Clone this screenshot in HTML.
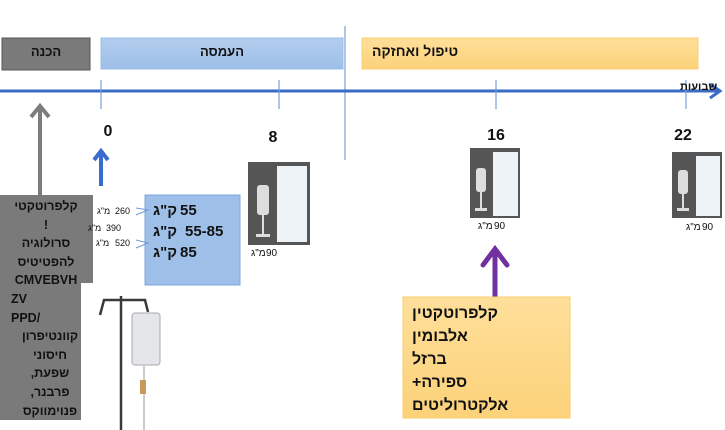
<!DOCTYPE html>
<html><head><meta charset="utf-8"><style>
body{margin:0;width:725px;height:430px;overflow:hidden;background:#fff;font-family:"Liberation Sans","Noto Sans CJK SC",sans-serif;position:relative}
.a{position:absolute}
.t{font-family:"Liberation Sans","Noto Sans CJK SC",sans-serif;}
.s{position:absolute;font-size:9px;color:#111;white-space:nowrap}
.m{position:absolute;font-size:10px;color:#111;white-space:nowrap}
.k{position:absolute;font-size:15px;font-weight:bold;color:#111;white-space:nowrap}
</style></head><body>
<svg class="a" style="left:0;top:0" width="725" height="430">
<defs>
<linearGradient id="og" x1="0" y1="0" x2="0" y2="1"><stop offset="0" stop-color="#fedf9a"/><stop offset="1" stop-color="#fcd27a"/></linearGradient>
<linearGradient id="bg" x1="0" y1="0" x2="0" y2="1"><stop offset="0" stop-color="#b4cdee"/><stop offset="1" stop-color="#9dbfe8"/></linearGradient>
</defs>
<rect x="2" y="38" width="88" height="32" fill="#7a7a7a" stroke="#555" stroke-width="1"/>
<rect x="101" y="38" width="242" height="31" fill="url(#bg)" stroke="#9cbfe6"/>
<rect x="362" y="38" width="336" height="31" fill="url(#og)" stroke="#f9d272"/>
<line x1="345" y1="26" x2="345" y2="160" stroke="#7a9fd8" stroke-width="1.2"/>
<line x1="0" y1="91" x2="720" y2="91" stroke="#3a6cc6" stroke-width="3"/>
<polyline points="710,84 720,91 710,98" fill="none" stroke="#3a6cc6" stroke-width="3"/>
<g stroke="#7a9fd8" stroke-width="1.2">
<line x1="101" y1="80" x2="101" y2="109"/><line x1="279" y1="80" x2="279" y2="109"/>
<line x1="496" y1="80" x2="496" y2="109"/><line x1="686" y1="80" x2="686" y2="109"/>
</g>
<g font-size="16" font-weight="bold" text-anchor="middle" class="t" fill="#111">
<text x="108" y="136">0</text><text x="273" y="142">8</text>
<text x="496" y="140">16</text><text x="683" y="140">22</text>
</g>
<line x1="40" y1="108" x2="40" y2="195" stroke="#7d7d7d" stroke-width="4"/>
<polyline points="31,117 40,106 49,117" fill="none" stroke="#7d7d7d" stroke-width="4"/>
<line x1="101" y1="152" x2="101" y2="186" stroke="#3a6cd0" stroke-width="4"/>
<polyline points="94,160 101,151 108,160" fill="none" stroke="#3a6cd0" stroke-width="4"/>
<line x1="495" y1="250" x2="495" y2="297" stroke="#7030a0" stroke-width="5"/>
<polyline points="483,265 495,249 507,265" fill="none" stroke="#7030a0" stroke-width="5" stroke-linecap="round"/>
<rect x="0" y="195" width="93" height="88" fill="#7a7a7a"/>
<rect x="0" y="283" width="81" height="137" fill="#7a7a7a"/>
<rect x="145" y="195" width="95" height="90" fill="#9dbfe8" stroke="#7fa7dc"/>
<g stroke="#6f9ad8" fill="none" stroke-width="1">
<polyline points="136,208 148,210 136,215"/><polyline points="136,240 148,243 136,248"/>
</g>
<g>
<rect x="248" y="162" width="62" height="83" fill="#555"/><rect x="277" y="166" width="30" height="76" fill="#eef3f8"/>
<rect x="257" y="185" width="12" height="30" fill="#ddd" rx="3"/><rect x="262" y="215" width="2" height="20" fill="#ddd"/><rect x="256" y="234" width="14" height="3" fill="#ddd"/>
<rect x="470" y="148" width="50" height="70" fill="#555"/><rect x="493" y="152" width="25" height="64" fill="#eef3f8"/>
<rect x="476" y="168" width="10" height="24" fill="#ddd" rx="3"/><rect x="480" y="192" width="2" height="16" fill="#ddd"/><rect x="475" y="208" width="12" height="3" fill="#ddd"/>
<rect x="672" y="152" width="50" height="66" fill="#555"/><rect x="696" y="156" width="24" height="60" fill="#eef3f8"/>
<rect x="678" y="170" width="10" height="24" fill="#ddd" rx="3"/><rect x="682" y="194" width="2" height="14" fill="#ddd"/><rect x="677" y="208" width="12" height="3" fill="#ddd"/>
</g>
<g stroke="#3a3a3a" stroke-width="2.5" fill="none">
<line x1="121" y1="296" x2="121" y2="430"/>
<path d="M100,315 L104,300 L145,300 L148,312"/>
</g>
<rect x="132" y="313" width="28" height="52" fill="#e4e6ea" stroke="#aaa" rx="3"/>
<line x1="144" y1="365" x2="144" y2="430" stroke="#ccc" stroke-width="2"/>
<rect x="140" y="380" width="6" height="14" fill="#c89a5a"/>
<rect x="403" y="297" width="167" height="121" fill="url(#og)" stroke="#f9cf6a"/>
</svg>
<div class="a" dir="rtl" style="left:680px;top:81px;font-size:11px;font-weight:bold;color:#111">שבועות</div>
<div class="s" style="left:97px;top:206px">מ"ג</div><div class="s" style="left:115px;top:206px">260</div>
<div class="s" style="left:88px;top:223px">מ"ג</div><div class="s" style="left:106px;top:223px">390</div>
<div class="s" style="left:96px;top:238px">מ"ג</div><div class="s" style="left:115px;top:238px">520</div>
<div class="k" style="left:153px;top:202px">ק"ג</div><div class="k" style="left:180px;top:202px">55</div>
<div class="k" style="left:153px;top:223px">ק"ג</div><div class="k" style="left:185px;top:223px">55-85</div>
<div class="k" style="left:153px;top:244px">ק"ג</div><div class="k" style="left:180px;top:244px">85</div>
<div class="m" style="left:251px;top:248px">מ"ג</div><div class="m" style="left:266px;top:248px">90</div>
<div class="m" style="left:478px;top:221px">מ"ג</div><div class="m" style="left:494px;top:221px">90</div>
<div class="m" style="left:686px;top:222px">מ"ג</div><div class="m" style="left:702px;top:222px">90</div>
<div class="a" dir="rtl" style="left:3px;top:197px;width:86px;font-size:12.5px;font-weight:bold;line-height:18.6px;color:#111;text-align:center">קלפרוטקטי<br>!<br>סרולוגיה<br>להפטיטיס<br>CMVEBVH<div dir="ltr" style="text-align:left;width:78px;padding-left:4px">ZV<br>PPD/</div><div style="width:78px">קוונטיפרון<br>חיסוני<br>שפעת,<br>פרבנר,<br>פנוימווקס</div></div>
<div class="a" style="left:2px;top:44px;width:88px;text-align:center;font-size:13px;font-weight:bold;color:#111">הכנה</div>
<div class="a" style="left:101px;top:44px;width:242px;text-align:center;font-size:13px;font-weight:bold;color:#111">העמסה</div>
<div class="a" dir="rtl" style="left:372px;top:43px;font-size:14px;font-weight:bold;color:#111">טיפול ואחזקה</div>
<div class="a" style="left:412px;top:302px;width:150px;font-size:16px;font-weight:bold;line-height:23px;color:#111;text-align:left"><span dir="rtl">קלפרוטקטין</span><br><span dir="rtl">אלבומין</span><br><span dir="rtl">ברזל</span><br><span dir="rtl">ספירה+</span><br><span dir="rtl">אלקטרוליטים</span></div>
</body></html>
